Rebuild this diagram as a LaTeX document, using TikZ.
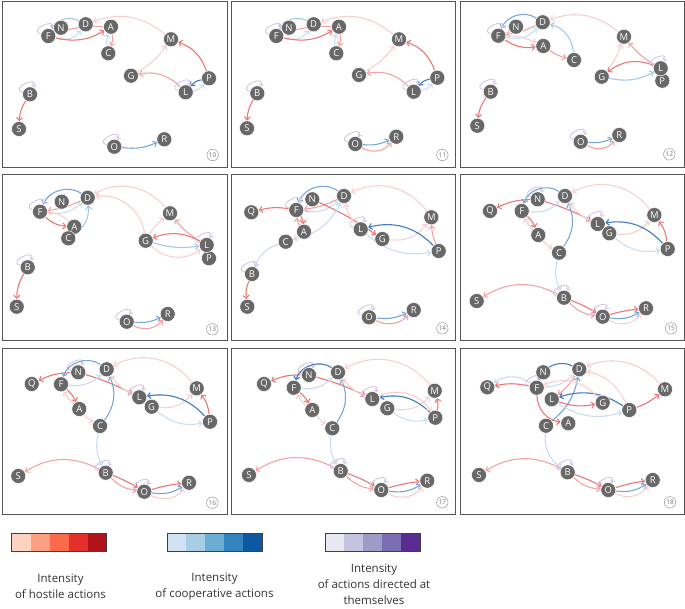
\documentclass[tikz,border=0pt]{standalone}
\usepackage{fontspec}
\setmainfont{Open Sans}
\usetikzlibrary{arrows.meta}
\definecolor{pA}{HTML}{F8CFCF}
\definecolor{pB}{HTML}{F3A3A3}
\definecolor{pC}{HTML}{EC7676}
\definecolor{bA}{HTML}{C8DDF1}
\definecolor{bB}{HTML}{A6C8E8}
\definecolor{bC}{HTML}{76A7D8}
\definecolor{bD}{HTML}{3F7BBE}
\definecolor{lA}{HTML}{D6C4E6}
\definecolor{nodegray}{HTML}{686868}
\definecolor{framegray}{HTML}{555555}
\definecolor{rA}{HTML}{FDD2C0}\definecolor{rB}{HTML}{FC9F83}\definecolor{rC}{HTML}{FB6A4A}\definecolor{rD}{HTML}{E3302A}\definecolor{rE}{HTML}{AF1219}
\definecolor{cA}{HTML}{D1E3F3}\definecolor{cB}{HTML}{A8CEE5}\definecolor{cC}{HTML}{6AAED6}\definecolor{cD}{HTML}{3383BE}\definecolor{cE}{HTML}{0E58A2}
\definecolor{uA}{HTML}{E9E7F2}\definecolor{uB}{HTML}{C5C4E0}\definecolor{uC}{HTML}{9F9BC9}\definecolor{uD}{HTML}{7B6EB3}\definecolor{uE}{HTML}{5B2C90}
\pgfdeclarelayer{bg}
\pgfsetlayers{bg,main}
\tikzset{
  agent/.style={circle, fill=nodegray, draw=white, line width=0.5pt, minimum size=15pt, inner sep=0pt, text=white, font=\fontsize{9.5}{10}\selectfont},
  ed/.style={line width=1.1pt, -{Straight Barb[length=3pt,width=6pt]}},
  p1/.style={ed, draw=pA}, p2/.style={ed, draw=pB}, p3/.style={ed, draw=pC},
  b1/.style={ed, draw=bA}, b2/.style={ed, draw=bB}, b3/.style={ed, draw=bC}, b4/.style={ed, draw=bD},
  sl/.style={line width=0.9pt, draw=lA, -{Straight Barb[length=2.2pt,width=4.5pt]}, out=165, in=65, min distance=14pt},
  panelframe/.style={draw=framegray, line width=0.8pt},
  numlab/.style={circle, draw=gray!80, line width=0.5pt, minimum size=11.5pt, inner sep=0pt, font=\fontsize{6.5}{6.5}\selectfont, text=gray!90!black},
  legbar/.style={draw=black!75, line width=0.8pt},
  legtxt/.style={align=center, font=\fontsize{11.5}{16}\selectfont, text=black!80}
}
\newcommand\edgesten[1]{%
  \draw[b1] (F#1) to[bend right=35] (D#1);
  \draw[b2] (D#1) to[bend right=45] (F#1);
  \draw[p3] (F#1) to[bend right=22] (A#1);
  \draw[p2] (A#1) to[bend right=10] (F#1);
  \draw[b1] (C#1) to[bend left=15] (A#1);
  \draw[p2] (A#1) to[bend left=15] (C#1);
  \draw[p1] (M#1) to[bend right=30] (D#1);
  \draw[p1] (G#1) to[bend right=12] (M#1);
  \draw[p2] (L#1) to[bend right=28] (G#1);
  \draw[p3] (P#1) to[bend right=25] (M#1);
  \draw[b4] (P#1) to[bend right=20] (L#1);
  \draw[b1] (L#1) to[bend right=20] (P#1);
  \draw[p3] (B#1) to[bend right=15] (S#1);
  \draw[b3] (O#1) to[bend right=15] (R#1);
  \draw[sl] (F#1) to (F#1);
  \draw[sl] (L#1) to (L#1);
  \draw[sl] (B#1) to (B#1);
  \draw[sl] (O#1) to (O#1);
}
\newcommand\edgesmid[1]{%
  \draw[p3] (N#1) to[bend right=12] (Q#1);
  \draw[p3] (N#1) to[bend left=5] (L#1);
  \draw[b1] (F#1) to[bend right=25] (D#1);
  \draw[b3] (C#1) to[bend right=30] (D#1);
  \draw[p3] (F#1) to[bend left=12] (A#1);
  \draw[p1] (A#1) to[bend left=12] (F#1);
  \draw[p1] (A#1) to[bend right=10] (C#1);
  \draw[b1] (C#1) to[bend right=20] (B#1);
  \draw[p2] (B#1) to[bend right=30] (S#1);
  \draw[p3] (B#1) to[bend left=5] (O#1);
  \draw[p2] (B#1) to[bend right=18] (O#1);
  \draw[p3] (O#1) to[bend left=5] (R#1);
  \draw[b3] (O#1) to[bend right=20] (R#1);
  \draw[p1] (O#1) to[bend right=40] (R#1);
  \draw[p1] (M#1) to[bend right=40] (D#1);
  \draw[p1] (L#1) to[bend left=15] (D#1);
  \draw[p1] (G#1) to[bend right=28] (M#1);
  \draw[p3] (P#1) to[bend right=15] (M#1);
  \draw[b4] (P#1) to[bend right=28] (L#1);
  \draw[b1] (G#1) to[bend right=25] (P#1);
  \draw[sl] (N#1) to (N#1);
  \draw[sl] (L#1) to (L#1);
  \draw[sl] (B#1) to (B#1);
  \draw[sl] (O#1) to (O#1);
}
\begin{document}
\begin{tikzpicture}[x=1pt,y=-1pt]
\path[use as bounding box] (0,0) rectangle (685,608);
% frames
\draw[panelframe] (2.5,1) rectangle (227,167.5);
\draw[panelframe] (231,1) rectangle (455.5,167.5);
\draw[panelframe] (460,1) rectangle (684,167.5);
\draw[panelframe] (2.5,174) rectangle (227,340.5);
\draw[panelframe] (231,174) rectangle (455.5,340.5);
\draw[panelframe] (460,174) rectangle (684,340.5);
\draw[panelframe] (2.5,348) rectangle (227,514);
\draw[panelframe] (231,348) rectangle (455.5,514);
\draw[panelframe] (460,348) rectangle (684,514);

% ---------- panel 10
\node[agent] (F10) at (48.3,36) {F};
\node[agent] (N10) at (61,27.7) {N};
\node[agent] (D10) at (85.7,24.3) {D};
\node[agent] (A10) at (111,26.7) {A};
\node[agent] (C10) at (108.3,53.3) {C};
\node[agent] (M10) at (171,39.3) {M};
\node[agent] (G10) at (131,75.7) {G};
\node[agent] (L10) at (185.7,92.3) {L};
\node[agent] (P10) at (209,78.3) {P};
\node[agent] (B10) at (30,94.3) {B};
\node[agent] (S10) at (19,129) {S};
\node[agent] (O10) at (114.3,146.7) {O};
\node[agent] (R10) at (164.3,139.3) {R};
\node[numlab] (num10) at (212.7,155) {10};
\begin{pgfonlayer}{bg}
\edgesten{10}
\end{pgfonlayer}

% ---------- panel 11
\node[agent] (F11) at (276.3,36) {F};
\node[agent] (N11) at (289,27.7) {N};
\node[agent] (D11) at (313.7,24.3) {D};
\node[agent] (A11) at (339,26.7) {A};
\node[agent] (C11) at (336.3,53.3) {C};
\node[agent] (M11) at (399,39.3) {M};
\node[agent] (G11) at (359,75) {G};
\node[agent] (L11) at (413.7,91.7) {L};
\node[agent] (P11) at (437.3,77.7) {P};
\node[agent] (B11) at (257.3,93.3) {B};
\node[agent] (S11) at (247,128.3) {S};
\node[agent] (O11) at (355.3,144) {O};
\node[agent] (R11) at (396.3,136.7) {R};
\node[numlab] (num11) at (442.3,155) {11};
\begin{pgfonlayer}{bg}
\edgesten{11}
\draw[p2] (O11) to[bend right=40] (R11);
\end{pgfonlayer}

% ---------- panel 12
\node[agent] (F12) at (498.3,35.7) {F};
\node[agent] (N12) at (516,26.7) {N};
\node[agent] (D12) at (542.7,22.3) {D};
\node[agent] (A12) at (543.3,46) {A};
\node[agent] (C12) at (574,60) {C};
\node[agent] (M12) at (624,36.7) {M};
\node[agent] (G12) at (601.7,76.7) {G};
\node[agent] (P12) at (662.3,80.7) {P};
\node[agent] (L12) at (660.7,68.3) {L};
\node[agent] (B12) at (490.7,91.7) {B};
\node[agent] (S12) at (477.3,125.7) {S};
\node[agent] (O12) at (580.7,141.7) {O};
\node[agent] (R12) at (619.3,135) {R};
\node[numlab] (num12) at (669.3,154.3) {12};
\begin{pgfonlayer}{bg}
\draw[b3] (D12) to[bend right=50] (F12);
\draw[b1] (F12) to[bend right=30] (D12);
\draw[p2] (D12) to[bend left=8] (F12);
\draw[p3] (F12) to[bend right=20] (A12);
\draw[p1] (F12) to[bend left=12] (A12);
\draw[p2] (A12) to[bend right=10] (C12);
\draw[b2] (C12) to[bend right=35] (D12);
\draw[p1] (M12) to[bend right=30] (D12);
\draw[p1] (G12) to[bend right=10] (M12);
\draw[p2] (L12) to[bend left=10] (M12);
\draw[p3] (L12) to[bend right=30] (G12);
\draw[b2] (G12) to[bend right=20] (L12);
\draw[p3] (B12) to[bend right=15] (S12);
\draw[b3] (O12) to[bend right=15] (R12);
\draw[p2] (O12) to[bend right=40] (R12);
\draw[sl] (F12) to (F12);
\draw[sl] (L12) to (L12);
\draw[sl] (B12) to (B12);
\draw[sl] (O12) to (O12);
\end{pgfonlayer}

% ---------- panel 13
\node[agent] (F13) at (40,211.7) {F};
\node[agent] (N13) at (61.7,201.7) {N};
\node[agent] (D13) at (87.7,197.7) {D};
\node[agent] (A13) at (74.3,226.7) {A};
\node[agent] (C13) at (68.3,238.3) {C};
\node[agent] (M13) at (170,213.3) {M};
\node[agent] (G13) at (145.7,240.7) {G};
\node[agent] (P13) at (209,258.3) {P};
\node[agent] (L13) at (206.7,245) {L};
\node[agent] (B13) at (27.7,267.3) {B};
\node[agent] (S13) at (16.7,306.7) {S};
\node[agent] (O13) at (126.7,321.7) {O};
\node[agent] (R13) at (167.7,314) {R};
\node[numlab] (num13) at (212.3,329.3) {13};
\begin{pgfonlayer}{bg}
\draw[b3] (D13) to[bend right=50] (F13);
\draw[b1] (F13) to[bend right=25] (D13);
\draw[p2] (D13) to[bend left=8] (F13);
\draw[p3] (F13) to[bend right=20] (A13);
\draw[p1] (A13) to[bend right=20] (F13);
\draw[b2] (C13) to[bend right=30] (D13);
\draw[p1] (G13) to[bend right=45] (D13);
\draw[p1] (M13) to[bend right=40] (D13);
\draw[p1] (G13) to[bend left=10] (M13);
\draw[p2] (L13) to[bend left=10] (M13);
\draw[p3] (L13) to[bend right=25] (G13);
\draw[b2] (G13) to[bend right=12] (L13);
\draw[p1] (G13) to[bend right=40] (L13);
\draw[p3] (B13) to[bend right=15] (S13);
\draw[b3] (O13) to[bend right=15] (R13);
\draw[p2] (O13) to[bend right=40] (R13);
\draw[sl] (F13) to (F13);
\draw[sl] (L13) to (L13);
\draw[sl] (B13) to (B13);
\draw[sl] (O13) to (O13);
\end{pgfonlayer}

% ---------- panel 14
\node[agent] (Q14) at (251.3,212.3) {Q};
\node[agent] (F14) at (296.3,210) {F};
\node[agent] (N14) at (312.3,199.3) {N};
\node[agent] (D14) at (344,196) {D};
\node[agent] (A14) at (304,231.7) {A};
\node[agent] (C14) at (285.7,241.7) {C};
\node[agent] (G14) at (382.3,239) {G};
\node[agent] (L14) at (360.7,229.3) {L};
\node[agent] (M14) at (431.3,217.3) {M};
\node[agent] (P14) at (438.7,251) {P};
\node[agent] (B14) at (252,274) {B};
\node[agent] (S14) at (247.3,306.7) {S};
\node[agent] (O14) at (369,317.3) {O};
\node[agent] (R14) at (413.7,310) {R};
\node[numlab] (num14) at (442.3,328.3) {14};
\begin{pgfonlayer}{bg}
\draw[p3] (F14) to[bend right=12] (Q14);
\draw[b3] (D14) to[bend right=55] (F14);
\draw[b1] (F14) to[bend right=25] (D14);
\draw[p2] (D14) to[bend left=10] (F14);
\draw[p3] (N14) to[bend left=5] (G14);
\draw[p1] (L14) to[bend left=15] (D14);
\draw[p1] (M14) to[bend right=40] (D14);
\draw[p1] (G14) to[bend right=30] (M14);
\draw[p2] (P14) to[bend left=10] (M14);
\draw[b4] (P14) to[bend right=30] (L14);
\draw[b1] (L14) to[bend right=25] (P14);
\draw[b1] (C14) to[bend right=25] (D14);
\draw[b1] (C14) to[bend right=25] (B14);
\draw[p3] (F14) to[bend left=15] (A14);
\draw[p2] (A14) to[bend left=15] (F14);
\draw[p1] (A14) to[bend left=10] (C14);
\draw[p3] (B14) to[bend right=15] (S14);
\draw[b3] (O14) to[bend right=15] (R14);
\draw[p2] (O14) to[bend right=35] (R14);
\draw[sl] (F14) to (F14);
\draw[sl] (L14) to (L14);
\draw[sl] (B14) to (B14);
\draw[sl] (O14) to (O14);
\end{pgfonlayer}

% ---------- panel 15
\node[agent] (Q15) at (490,211) {Q};
\node[agent] (F15) at (521.7,211) {F};
\node[agent] (N15) at (537.7,199.3) {N};
\node[agent] (D15) at (565,196) {D};
\node[agent] (A15) at (538.3,235) {A};
\node[agent] (C15) at (559,252.7) {C};
\node[agent] (L15) at (597.7,224) {L};
\node[agent] (G15) at (609.3,233.3) {G};
\node[agent] (M15) at (654.3,215) {M};
\node[agent] (P15) at (667.7,249) {P};
\node[agent] (S15) at (476.7,301) {S};
\node[agent] (B15) at (564,297.7) {B};
\node[agent] (O15) at (602.7,316.7) {O};
\node[agent] (R15) at (646,308.3) {R};
\node[numlab] (num15) at (671,328.3) {15};
\begin{pgfonlayer}{bg}
\edgesmid{15}
\draw[b3] (D15) to[bend right=55] (F15);
\end{pgfonlayer}

% ---------- panel 16
\node[agent] (Q16) at (31.7,384) {Q};
\node[agent] (F16) at (61,384.3) {F};
\node[agent] (N16) at (78.3,372.3) {N};
\node[agent] (D16) at (106.7,369.3) {D};
\node[agent] (A16) at (79.3,409) {A};
\node[agent] (C16) at (100,426) {C};
\node[agent] (G16) at (151.7,406.7) {G};
\node[agent] (L16) at (139.3,397.3) {L};
\node[agent] (M16) at (196.7,388.3) {M};
\node[agent] (P16) at (210,421.7) {P};
\node[agent] (S16) at (18.3,476) {S};
\node[agent] (B16) at (105.7,472.7) {B};
\node[agent] (O16) at (144.3,491.7) {O};
\node[agent] (R16) at (189,482.7) {R};
\node[numlab] (num16) at (212.3,502.7) {16};
\begin{pgfonlayer}{bg}
\edgesmid{16}
\draw[b3] (D16) to[bend right=55] (F16);
\end{pgfonlayer}

% ---------- panel 17
\node[agent] (Q17) at (264,384) {Q};
\node[agent] (F17) at (293.7,387.7) {F};
\node[agent] (N17) at (309,375) {N};
\node[agent] (D17) at (338,372.3) {D};
\node[agent] (A17) at (312.3,410) {A};
\node[agent] (C17) at (332.3,428.3) {C};
\node[agent] (G17) at (387.3,408.3) {G};
\node[agent] (L17) at (372.3,399) {L};
\node[agent] (M17) at (434.7,390.7) {M};
\node[agent] (P17) at (435.3,417.7) {P};
\node[agent] (S17) at (249,475) {S};
\node[agent] (B17) at (340.7,471) {B};
\node[agent] (O17) at (381.3,490) {O};
\node[agent] (R17) at (427.3,480.7) {R};
\node[numlab] (num17) at (442.3,502.3) {17};
\begin{pgfonlayer}{bg}
\edgesmid{17}
\draw[b4] (D17) to[bend right=55] (F17);
\draw[p1] (L17) to[bend left=40] (P17);
\end{pgfonlayer}

% ---------- panel 18
\node[agent] (Q18) at (487.3,387.3) {Q};
\node[agent] (F18) at (536.7,387.7) {F};
\node[agent] (N18) at (543.3,372.3) {N};
\node[agent] (D18) at (579.3,369.3) {D};
\node[agent] (L18) at (551.7,399.3) {L};
\node[agent] (G18) at (602.7,402.7) {G};
\node[agent] (P18) at (629.3,410) {P};
\node[agent] (M18) at (665,389.3) {M};
\node[agent] (C18) at (546,425.7) {C};
\node[agent] (A18) at (568.3,423.3) {A};
\node[agent] (S18) at (479,475) {S};
\node[agent] (B18) at (567.7,472.3) {B};
\node[agent] (O18) at (608.3,490) {O};
\node[agent] (R18) at (652.7,480) {R};
\node[numlab] (num18) at (670,502.3) {18};
\begin{pgfonlayer}{bg}
\draw[b4] (D18) to[bend right=50] (F18);
\draw[p3] (F18) to[bend right=12] (Q18);
\draw[b1] (F18) to[bend right=35] (Q18);
\draw[b1] (F18) to[bend right=20] (D18);
\draw[p2] (D18) to[bend left=10] (L18);
\draw[b3] (C18) to[bend right=20] (D18);
\draw[b4] (P18) to[bend right=25] (L18);
\draw[b1] (L18) to[bend right=25] (P18);
\draw[p3] (L18) to[bend right=15] (G18);
\draw[p3] (F18) to[bend right=40] (A18);
\draw[p3] (P18) to[bend right=10] (M18);
\draw[p1] (M18) to[bend right=35] (D18);
\draw[p1] (P18) to[bend right=25] (D18);
\draw[p1] (G18) to[bend right=35] (F18);
\draw[b1] (C18) to[bend right=30] (B18);
\draw[p2] (B18) to[bend right=30] (S18);
\draw[p3] (B18) to[bend left=5] (O18);
\draw[p2] (B18) to[bend right=18] (O18);
\draw[p3] (O18) to[bend left=5] (R18);
\draw[b3] (O18) to[bend right=20] (R18);
\draw[p1] (O18) to[bend right=40] (R18);
\draw[sl] (F18) to (F18);
\draw[sl] (B18) to (B18);
\draw[sl] (O18) to (O18);
\end{pgfonlayer}

% ---------- legend
\fill[rA] (11.5,533.5) rectangle (30.5,551.5);
\fill[rB] (30.5,533.5) rectangle (49.5,551.5);
\fill[rC] (49.5,533.5) rectangle (68.5,551.5);
\fill[rD] (68.5,533.5) rectangle (87.5,551.5);
\fill[rE] (87.5,533.5) rectangle (106.5,551.5);
\draw[legbar] (11.5,533.5) rectangle (106.5,551.5);
\fill[cA] (167,533.5) rectangle (186,551.5);
\fill[cB] (186,533.5) rectangle (205,551.5);
\fill[cC] (205,533.5) rectangle (224,551.5);
\fill[cD] (224,533.5) rectangle (243,551.5);
\fill[cE] (243,533.5) rectangle (262,551.5);
\draw[legbar] (167,533.5) rectangle (262,551.5);
\fill[uA] (325,533.5) rectangle (344,551.5);
\fill[uB] (344,533.5) rectangle (363,551.5);
\fill[uC] (363,533.5) rectangle (382,551.5);
\fill[uD] (382,533.5) rectangle (401,551.5);
\fill[uE] (401,533.5) rectangle (420,551.5);
\draw[legbar] (325,533.5) rectangle (420,551.5);
\node[legtxt] (lh) at (60.5,586.5) {Intensity\\of hostile actions};
\node[legtxt] (lc) at (214.5,586.5) {Intensity\\of cooperative actions};
\node[legtxt] (ls) at (374,584.5) {Intensity\\of actions directed at\\themselves};
\end{tikzpicture}
\end{document}
